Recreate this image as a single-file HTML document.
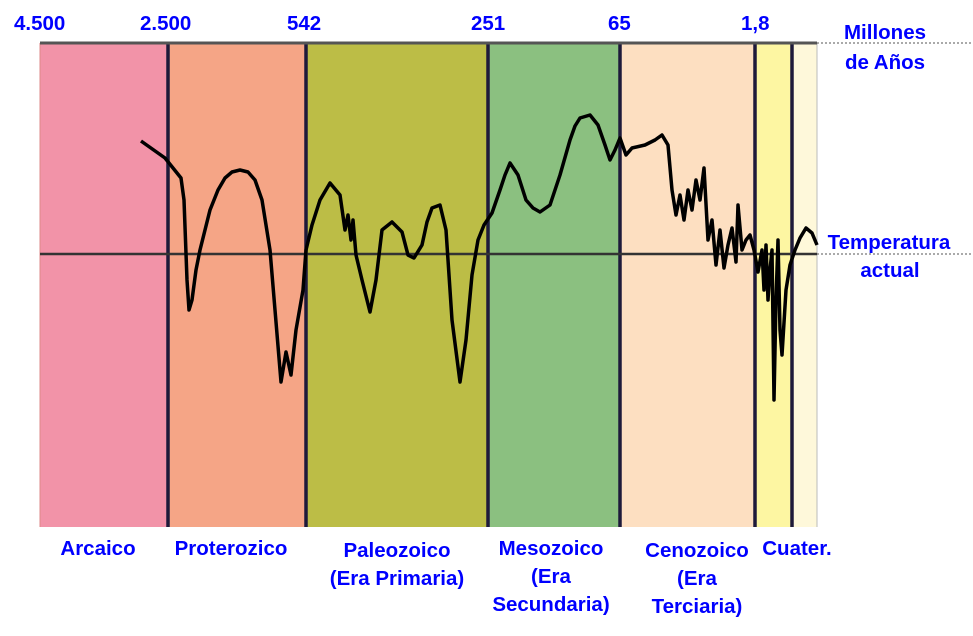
<!DOCTYPE html>
<html><head><meta charset="utf-8"><style>
body{margin:0;background:#fff;}
svg{display:block;}
text{font-family:"Liberation Sans",sans-serif;font-weight:bold;fill:#0000ff;font-size:20.5px;}
</style></head><body>
<svg width="973" height="636" viewBox="0 0 973 636">
<rect x="40" y="43" width="128" height="484" fill="#f293a8"/>
<rect x="168" y="43" width="138" height="484" fill="#f5a586"/>
<rect x="306" y="43" width="182" height="484" fill="#bcbd46"/>
<rect x="488" y="43" width="132" height="484" fill="#8bc080"/>
<rect x="620" y="43" width="135" height="484" fill="#fddfc1"/>
<rect x="755" y="43" width="37" height="484" fill="#fdf6a2"/>
<rect x="792" y="43" width="25" height="484" fill="#fef8da"/>
<line x1="40" y1="43" x2="40" y2="527" stroke="#d88" stroke-width="1"/>
<line x1="817" y1="43" x2="817" y2="527" stroke="#bbb" stroke-width="1"/>
<g stroke="#1e1a3a" stroke-width="3.5">
<line x1="168" y1="43" x2="168" y2="527"/><line x1="306" y1="43" x2="306" y2="527"/>
<line x1="488" y1="43" x2="488" y2="527"/><line x1="620" y1="43" x2="620" y2="527"/>
<line x1="755" y1="43" x2="755" y2="527"/><line x1="792" y1="43" x2="792" y2="527"/>
</g>
<line x1="40" y1="43" x2="817" y2="43" stroke="#555" stroke-width="3"/>
<line x1="40" y1="254" x2="817" y2="254" stroke="#333" stroke-width="2.5"/>
<line x1="817" y1="43" x2="973" y2="43" stroke="#555" stroke-width="1" stroke-dasharray="2,2"/>
<line x1="817" y1="254" x2="973" y2="254" stroke="#555" stroke-width="1" stroke-dasharray="2,2"/>
<polyline fill="none" stroke="#000" stroke-width="3.5" stroke-linejoin="round" points="141,141 165,158 181,178 184,200 187,280 189,310 192,300 196,270 200,250 210,210 218,190 225,178 232,172 240,170 248,172 255,180 262,200 270,250 275,310 281,382 286,352 291,375 296,330 303,290 306,250 312,225 320,200 330,183 340,195 345,230 348,215 351,240 353,220 356,255 362,280 370,312 376,280 382,230 392,222 402,232 408,255 414,258 422,245 427,222 432,208 440,205 446,230 452,320 460,382 466,340 472,275 478,240 484,225 492,213 500,190 505,175 510,163 518,175 526,200 533,208 540,212 550,205 560,175 570,140 575,126 580,118 590,115 598,125 605,145 610,160 615,150 620,138 626,155 632,148 645,145 655,140 662,135 668,145 672,190 676,215 680,195 684,220 688,190 692,210 696,180 700,200 704,168 708,240 712,220 716,265 720,230 724,268 728,245 732,228 736,262 738,205 742,250 746,240 750,235 754,250 758,272 762,250 764,290 766,245 768,300 770,270 772,250 774,400 776,300 778,240 780,330 782,355 786,290 790,265 795,250 800,238 806,228 812,233 817,245"/>
<text x="14" y="30">4.500</text>
<text x="140" y="30">2.500</text>
<text x="287" y="30">542</text>
<text x="471" y="30">251</text>
<text x="608" y="30">65</text>
<text x="741" y="30">1,8</text>
<text x="885" y="39" text-anchor="middle">Millones</text>
<text x="885" y="69" text-anchor="middle">de Años</text>
<text x="889" y="249" text-anchor="middle">Temperatura</text>
<text x="890" y="277" text-anchor="middle">actual</text>
<text x="98" y="555" text-anchor="middle">Arcaico</text>
<text x="231" y="555" text-anchor="middle">Proterozico</text>
<text x="397" y="557" text-anchor="middle">Paleozoico</text>
<text x="397" y="585" text-anchor="middle">(Era Primaria)</text>
<text x="551" y="555" text-anchor="middle">Mesozoico</text>
<text x="551" y="583" text-anchor="middle">(Era</text>
<text x="551" y="611" text-anchor="middle">Secundaria)</text>
<text x="697" y="557" text-anchor="middle">Cenozoico</text>
<text x="697" y="585" text-anchor="middle">(Era</text>
<text x="697" y="613" text-anchor="middle">Terciaria)</text>
<text x="797" y="555" text-anchor="middle">Cuater.</text>
</svg>
</body></html>
